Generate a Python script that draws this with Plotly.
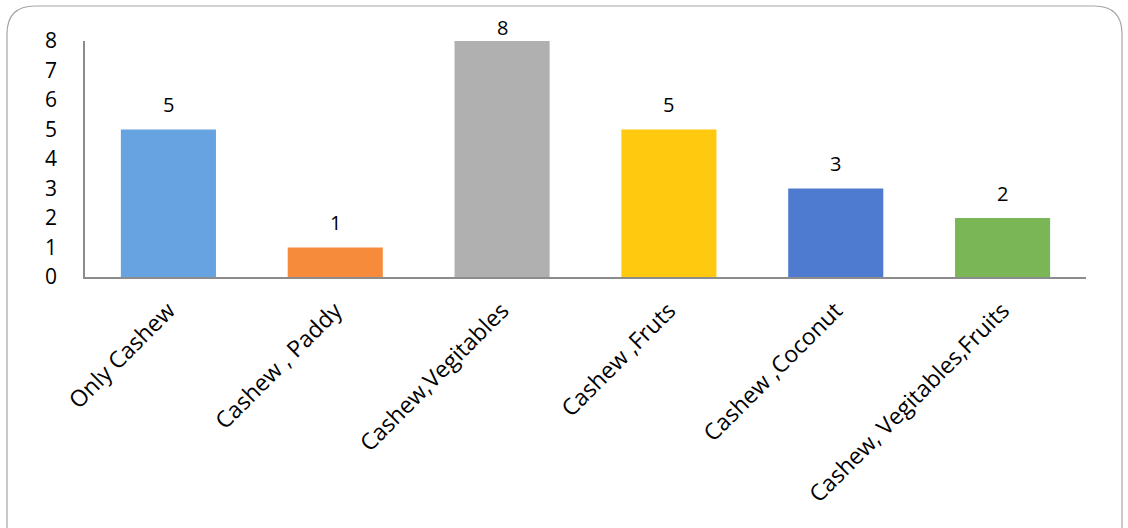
import plotly.graph_objects as go

# Crop combinations and number of respondents
categories = ["Only Cashew", "Cashew , Paddy", "Cashew,Vegitables", "Cashew ,Fruts",
              "Cashew ,Coconut", "Cashew, Vegitables,Fruits"]
counts = [5, 1, 8, 5, 3, 2]
bar_colors = ["#66A3E0", "#F68B3C", "#B0B0B0", "#FFC90F", "#4E7BD0", "#7AB556"]
y_ticks = [0, 1, 2, 3, 4, 5, 6, 7, 8]

W, H = 1128, 528
ML, MR, MT, MB = 85, 42, 41, 251
PW, PH = W - ML - MR, H - MT - MB

def px(x):
    return (x - ML) / PW

def py(y):
    return (H - MB - y) / PH

font = "Open Sans, Liberation Sans, sans-serif"

fig = go.Figure(go.Bar(
    x=categories, y=counts,
    marker=dict(color=bar_colors, line=dict(width=0)),
    cliponaxis=False,
))

# Value labels above each bar; the one at the top of the axis is pulled in closer
for cat, val in zip(categories, counts):
    shift = 25 if val < y_ticks[-1] else 14
    fig.add_annotation(x=cat, y=val, text=str(val), showarrow=False,
                       yanchor="middle", yshift=shift,
                       font=dict(size=20, color="#000000", family=font))

# Rounded frame around the chart
x0, x1, y0, y1, r = 7, 1122, 6, 540, 28
path = (
    f"M {px(x0)},{py(y1)} L {px(x0)},{py(y0 + r)} "
    f"Q {px(x0)},{py(y0)} {px(x0 + r)},{py(y0)} "
    f"L {px(x1 - r)},{py(y0)} "
    f"Q {px(x1)},{py(y0)} {px(x1)},{py(y0 + r)} "
    f"L {px(x1)},{py(y1)}"
)
fig.add_shape(type="path", path=path, xref="paper", yref="paper",
              line=dict(color="#A6A6A6", width=1.2), layer="below")

fig.update_layout(
    width=W, height=H,
    margin=dict(l=ML, r=MR, t=MT, b=MB),
    paper_bgcolor="white", plot_bgcolor="white",
    bargap=0.43, showlegend=False,
    font=dict(family=font, color="#000000"),
    xaxis=dict(
        showline=True, linecolor="#8C8C8C", linewidth=2,
        ticks="", tickangle=-45, ticklabelstandoff=9,
        tickfont=dict(size=23, color="#000000"),
        showgrid=False, fixedrange=True,
    ),
    yaxis=dict(
        range=[0, 8], tickvals=y_ticks, showline=True, linecolor="#8C8C8C", linewidth=1.5,
        ticks="", ticklabelstandoff=22, tickfont=dict(size=21, color="#000000"),
        showgrid=False, zeroline=False, fixedrange=True,
    ),
)

fig.write_html("out.html")
